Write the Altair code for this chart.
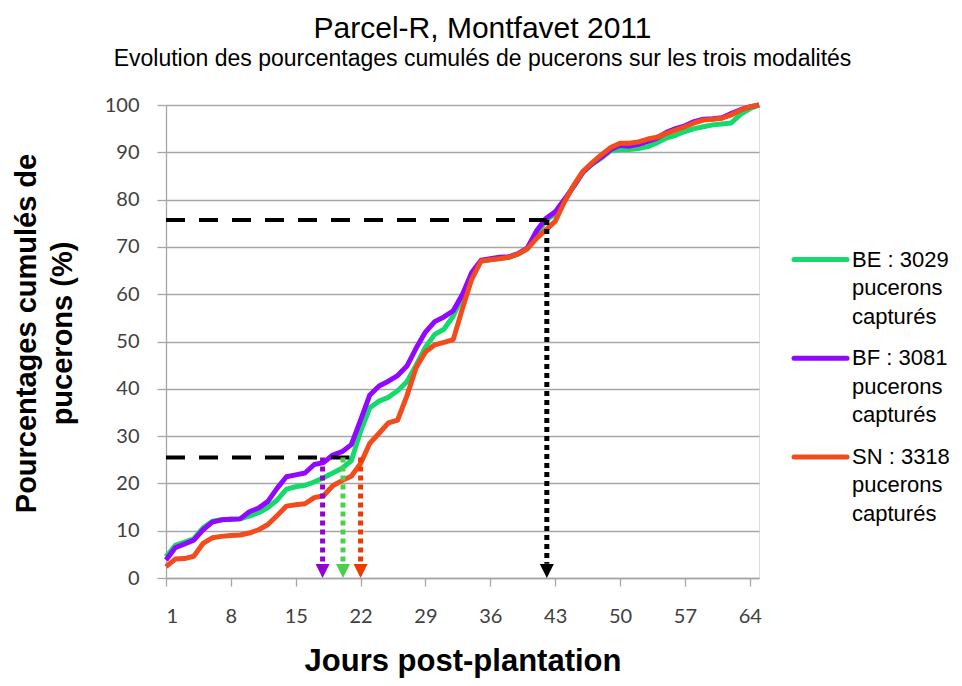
import altair as alt
import pandas as pd

# ---------------- data ----------------
DAYS = list(range(1, 66))
BE = [4.5, 6.9, 7.6, 8.3, 10.6, 12.0, 12.3, 12.4, 12.5, 13.1,
      13.8, 14.9, 16.5, 18.8, 19.3, 19.6, 20.3, 21.2, 22.2, 23.2,
      24.8, 31.0, 36.0, 37.4, 38.2, 39.6, 41.5, 45.0, 48.8, 51.5,
      52.6, 55.4, 59.5, 64.3, 67.0, 67.3, 67.6, 67.8, 68.5, 69.6,
      72.6, 75.6, 77.0, 80.0, 82.8, 85.8, 87.5, 88.8, 90.3, 90.6,
      90.6, 90.8, 91.2, 92.0, 93.0, 93.6, 94.4, 95.0, 95.4, 95.8,
      96.0, 96.2, 98.0, 99.2, 100.0]
BF = [3.8, 6.4, 7.2, 8.0, 10.2, 11.8, 12.3, 12.4, 12.5, 14.0,
      14.8, 16.2, 19.0, 21.4, 21.8, 22.2, 24.0, 24.4, 26.0, 26.7,
      28.2, 33.4, 38.7, 40.6, 41.6, 42.8, 44.8, 48.6, 52.0, 54.2,
      55.2, 56.5, 60.0, 64.6, 67.2, 67.5, 67.8, 67.9, 68.6, 69.8,
      73.4, 76.0, 77.4, 80.0, 82.8, 85.8, 87.6, 89.0, 90.6, 91.5,
      91.3, 91.7, 92.3, 93.0, 94.2, 95.0, 95.6, 96.5, 97.0, 97.1,
      97.3, 98.2, 99.0, 99.6, 100.0]
SN = [2.4, 4.0, 4.1, 4.6, 7.3, 8.5, 8.8, 9.0, 9.1, 9.5,
      10.2, 11.3, 13.2, 15.2, 15.5, 15.7, 17.0, 17.4, 19.5, 20.6,
      21.5, 24.2, 28.5, 30.6, 32.8, 33.4, 38.5, 44.5, 47.8, 49.3,
      49.8, 50.4, 57.0, 63.2, 67.0, 67.3, 67.5, 67.8, 68.5, 69.6,
      71.8, 73.6, 75.4, 79.5, 83.0, 86.0, 87.8, 89.5, 91.0, 91.9,
      91.9, 92.2, 92.8, 93.2, 94.0, 94.7, 95.4, 96.2, 96.8, 97.0,
      97.2, 97.9, 98.9, 99.6, 100.0]

SERIES = ["BE", "BF", "SN"]
COUNTS = [3029, 3081, 3318]
COLORS = ["#14DA6C", "#9207FF", "#F24C1C"]
X_TICKS = [1, 8, 15, 22, 29, 36, 43, 50, 57, 64]
Y_TICKS = [0, 10, 20, 30, 40, 50, 60, 70, 80, 90, 100]

# annotation lines
DASH_LEVELS = [25.5, 75.7]
DASH_ENDS = [20.8, 42.1]
ARROW_DAYS = [17.9, 20.1, 22.0, 42.1]
ARROW_TOPS = [25.5, 25.5, 25.5, 75.7]
ARROW_COLORS = ["#9400D3", "#4CD04C", "#EE3A00", "#000000"]

W, H = 593, 473
FONT = "Liberation Sans"

long = pd.DataFrame({
    "day": DAYS * 3,
    "pct": BE + BF + SN,
    "series": [s for s in SERIES for _ in DAYS],
})
one = pd.DataFrame({"k": [0]})

x_scale = alt.Scale(domain=[1, 65], nice=False, zero=False)
y_scale = alt.Scale(domain=[0, 100], nice=False)

lines = alt.Chart(long).mark_line(strokeWidth=5, strokeJoin="round").encode(
    x=alt.X("day:Q", scale=x_scale,
            axis=alt.Axis(values=X_TICKS, title="Jours post-plantation", grid=False,
                          tickSize=8, tickColor="#A6A6A6", domainColor="#A6A6A6",
                          domainWidth=1.3, tickWidth=1.3,
                          labelFont="Lato", labelFontSize=20, labelColor="#404040",
                          labelPadding=20, titleFont=FONT, titleFontSize=31,
                          titleFontWeight="bold", titleColor="#000000", titlePadding=20)),
    y=alt.Y("pct:Q", scale=y_scale,
            axis=alt.Axis(values=Y_TICKS, title=["Pourcentages cumulés de", "pucerons (%)"],
                          grid=True, gridColor="#A6A6A6", gridWidth=1.3,
                          tickSize=9, tickColor="#A6A6A6", tickWidth=1.3,
                          domainColor="#A6A6A6", domainWidth=1.3,
                          labelFont="Lato", labelFontSize=20, labelColor="#404040",
                          labelPadding=18, titleFont=FONT, titleFontSize=29,
                          titleFontWeight="bold", titleColor="#000000",
                          titleLineHeight=36, titlePadding=27, titleY=228)),
    color=alt.Color("series:N", scale=alt.Scale(domain=SERIES, range=COLORS), legend=None),
    order=alt.Order("day:Q"),
)

dash_df = pd.DataFrame({"x": [1, 1], "x2": DASH_ENDS, "y": DASH_LEVELS})
dashes = alt.Chart(dash_df).mark_rule(color="black", strokeWidth=4, strokeDash=[19, 14]).encode(
    x=alt.X("x:Q", scale=x_scale), x2="x2:Q", y=alt.Y("y:Q", scale=y_scale))

arrow_df = pd.DataFrame({"x": ARROW_DAYS, "top": ARROW_TOPS, "c": ARROW_COLORS})
arrow_df["bottom"] = 3.0
arrow_df["tip"] = 1.48
arrows = alt.Chart(arrow_df).mark_rule(strokeWidth=5, strokeDash=[5, 4]).encode(
    x=alt.X("x:Q", scale=x_scale), y=alt.Y("top:Q", scale=y_scale), y2="bottom:Q",
    color=alt.Color("c:N", scale=None))
heads = alt.Chart(arrow_df).mark_point(shape="M-1,-1L1,-1L0,1Z", filled=True, size=196,
                                       opacity=1, strokeWidth=0).encode(
    x=alt.X("x:Q", scale=x_scale), y=alt.Y("tip:Q", scale=y_scale),
    color=alt.Color("c:N", scale=None))

# manual legend (right of the plot)
leg_layers = []
for i, (s, n, col) in enumerate(zip(SERIES, COUNTS, COLORS)):
    ly = 154.5 + i * 98.7
    leg_layers.append(alt.Chart(one).mark_rule(color=col, strokeWidth=5, strokeCap="round").encode(
        x=alt.value(628), x2=alt.value(681), y=alt.value(ly)))
    for k, txt in enumerate([f"{s} : {n}", "pucerons", "capturés"]):
        leg_layers.append(alt.Chart(one).mark_text(
            text=txt, align="left", baseline="middle", font=FONT, fontSize=22, color="black"
        ).encode(x=alt.value(686), y=alt.value(ly + k * 28.5)))

chart = alt.layer(lines, dashes, arrows, heads, *leg_layers).properties(
    width=W, height=H,
    title=alt.TitleParams(
        "Parcel-R, Montfavet 2011",
        subtitle="Evolution des pourcentages cumulés de pucerons sur les trois modalités",
        font=FONT, fontSize=30, fontWeight="normal", color="black",
        subtitleFont=FONT, subtitleFontSize=23, subtitleColor="black",
        subtitlePadding=4, anchor="middle", dx=20, offset=24),
    autosize=alt.AutoSizeParams(type="none"),
    padding={"left": 158, "top": 97, "right": 190, "bottom": 106},
).configure_view(stroke=None).configure(background="white")

chart.save("out.html", embed_options={"renderer": "svg", "actions": False})
